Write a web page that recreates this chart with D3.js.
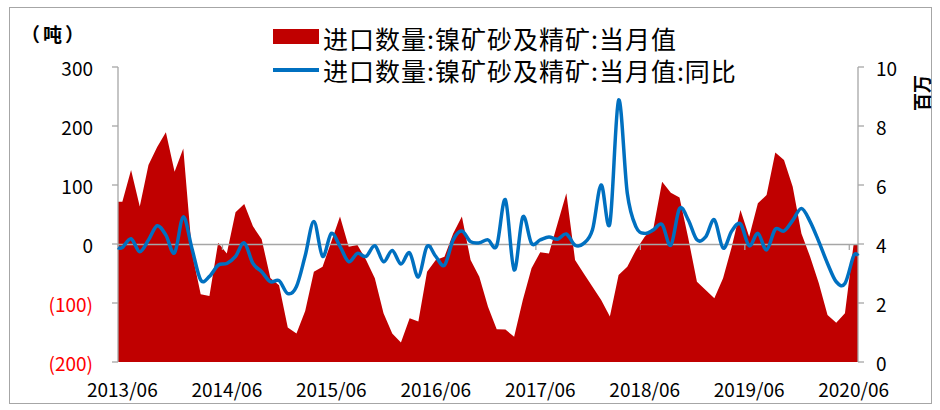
<!DOCTYPE html>
<html lang="zh-CN">
<head>
<meta charset="UTF-8">
<title>镍矿砂及精矿进口</title>
<script src="https://cdn.jsdelivr.net/npm/d3@7"></script>
<style>
  body { margin: 0; background: #fff; }
  svg text { font-family: "Noto Sans CJK SC", "Noto Sans", sans-serif; }
</style>
</head>
<body>
<svg id="chart" width="940" height="410"></svg>
<script>
// months shown on the category axis
const months = [
  "2013/06","2013/07","2013/08","2013/09","2013/10","2013/11","2013/12",
  "2014/01","2014/02","2014/03","2014/04","2014/05","2014/06","2014/07","2014/08","2014/09","2014/10","2014/11","2014/12",
  "2015/01","2015/02","2015/03","2015/04","2015/05","2015/06","2015/07","2015/08","2015/09","2015/10","2015/11","2015/12",
  "2016/01","2016/02","2016/03","2016/04","2016/05","2016/06","2016/07","2016/08","2016/09","2016/10","2016/11","2016/12",
  "2017/01","2017/02","2017/03","2017/04","2017/05","2017/06","2017/07","2017/08","2017/09","2017/10","2017/11","2017/12",
  "2018/01","2018/02","2018/03","2018/04","2018/05","2018/06","2018/07","2018/08","2018/09","2018/10","2018/11","2018/12",
  "2019/01","2019/02","2019/03","2019/04","2019/05","2019/06","2019/07","2019/08","2019/09","2019/10","2019/11","2019/12",
  "2020/01","2020/02","2020/03","2020/04","2020/05","2020/06"
];

// 当月值, 百万吨 (right axis)
const volume = [
  5.43, 6.51, 5.27, 6.68, 7.29, 7.79, 6.45,
  7.24, 3.70, 2.30, 2.24, 4.04, 3.68, 5.08, 5.36, 4.60, 4.16, 2.85, 2.60,
  1.17, 0.97, 1.73, 3.06, 3.23, 4.08, 4.93, 3.91, 3.97, 3.46, 2.84, 1.65,
  0.97, 0.66, 1.48, 1.37, 3.06, 3.46, 3.57, 4.36, 4.93, 3.46, 2.89, 1.87,
  1.11, 1.10, 0.86, 2.10, 3.18, 3.72, 3.68, 4.70, 5.72, 3.46, 3.00, 2.55,
  2.10, 1.54, 2.95, 3.23, 3.80, 4.25, 4.53, 6.11, 5.74, 5.58, 4.20, 2.72,
  2.44, 2.16, 2.84, 3.91, 5.15, 4.25, 5.38, 5.66, 7.10, 6.85, 5.94, 4.36,
  3.57, 2.67, 1.59, 1.33, 1.65, 4.00
];

// 同比, % (left axis)
const yoy = [
  -6, 9, -13, 7, 31, 15, -15,
  46, -8, -61, -55, -36, -33, -21, 2, -33, -47, -64, -62,
  -84, -72, -20, 38, -21, 18, -4, -30, -16, -21, -3, -30,
  -11, -34, -15, -56, -4, -21, -36, 7, 22, 4, 2, 7,
  -3, 75, -44, 46, 1, 7, 12, 8, 17, -2, 1, 24,
  100, 35, 244, 86, 29, 18, 24, 33, -2, 60, 41, 7,
  12, 41, -7, 22, 34, -3, 18, -10, 25, 22, 40, 60,
  38, 4, -33, -64, -67, -20
];

const leftTicks = [300, 200, 100, 0, -100, -200];
const rightTicks = [0, 2, 4, 6, 8, 10];
const xLabels = ["2013/06","2014/06","2015/06","2016/06","2017/06","2018/06","2019/06","2020/06"];
const seriesNames = ["进口数量:镍矿砂及精矿:当月值", "进口数量:镍矿砂及精矿:当月值:同比"];

const plot = {left: 118, right: 858, top: 67, bottom: 362};
const axisColor = "#a6a6a6";
const red = "#c00000", blue = "#0070c0";

const svg = d3.select("#chart");

// outer frame
svg.append("rect")
  .attr("x", 9.5).attr("y", 7.5)
  .attr("width", 922).attr("height", 396)
  .attr("fill", "none").attr("stroke", "#a6a6a6");

const x = d3.scaleBand().domain(months).range([plot.left, plot.right]);
const cx = m => x(m) + x.bandwidth() / 2;
const yL = d3.scaleLinear().domain([-200, 300]).range([plot.bottom, plot.top]);
const yR = d3.scaleLinear().domain([0, 10]).range([plot.bottom, plot.top]);

// points at band centres, stretched to the plot edges
function withEdges(vals) {
  const pts = months.map((m, i) => [cx(m), vals[i]]);
  pts.unshift([plot.left, vals[0]]);
  pts.push([plot.right, vals[vals.length - 1]]);
  return pts;
}

// area: monthly volume
svg.append("path")
  .datum(withEdges(volume))
  .attr("fill", red)
  .attr("d", d3.area()
    .x(d => d[0])
    .y0(yR(0))
    .y1(d => yR(d[1])));

// category axis at zero of the left axis
svg.append("line")
  .attr("x1", plot.left).attr("x2", plot.right)
  .attr("y1", yL(0) + 0.5).attr("y2", yL(0) + 0.5)
  .attr("stroke", axisColor).attr("stroke-width", 1.3);

svg.append("g").selectAll("line")
  .data(months.filter((m, i) => i % 12 === 0))
  .join("line")
    .attr("x1", d => x(d)).attr("x2", d => x(d))
    .attr("y1", yL(0)).attr("y2", yL(0) + 6)
    .attr("stroke", axisColor).attr("stroke-width", 1.3);

svg.append("g").selectAll("text")
  .data(xLabels)
  .join("text")
    .attr("x", d => cx(d))
    .attr("y", 388)
    .attr("text-anchor", "middle")
    .attr("dominant-baseline", "central")
    .attr("font-size", 19)
    .attr("fill", "#000")
    .text(d => d);

// left axis
const gl = svg.append("g");
gl.append("line")
  .attr("x1", plot.left).attr("x2", plot.left)
  .attr("y1", plot.top).attr("y2", plot.bottom)
  .attr("stroke", axisColor).attr("stroke-width", 1.3);
gl.selectAll(".tk").data(leftTicks).join("line")
  .attr("class", "tk")
  .attr("x1", plot.left - 6).attr("x2", plot.left)
  .attr("y1", d => yL(d)).attr("y2", d => yL(d))
  .attr("stroke", axisColor).attr("stroke-width", 1.3);
gl.selectAll("text").data(leftTicks).join("text")
  .attr("x", 93)
  .attr("y", d => yL(d))
  .attr("text-anchor", "end")
  .attr("dominant-baseline", "central")
  .attr("font-size", 19)
  .attr("fill", d => d < 0 ? "#ff0000" : "#000")
  .text(d => d < 0 ? "(" + Math.abs(d) + ")" : d);

// right axis
const gr = svg.append("g");
gr.append("line")
  .attr("x1", plot.right).attr("x2", plot.right)
  .attr("y1", plot.top).attr("y2", plot.bottom)
  .attr("stroke", axisColor).attr("stroke-width", 1.3);
gr.selectAll(".tk").data(rightTicks).join("line")
  .attr("class", "tk")
  .attr("x1", plot.right).attr("x2", plot.right + 6)
  .attr("y1", d => yR(d)).attr("y2", d => yR(d))
  .attr("stroke", axisColor).attr("stroke-width", 1.3);
gr.selectAll("text").data(rightTicks).join("text")
  .attr("x", 876)
  .attr("y", d => yR(d))
  .attr("dominant-baseline", "central")
  .attr("font-size", 19)
  .attr("fill", "#000")
  .text(d => d);

// unit labels
svg.append("text")
  .attr("x", 54).attr("y", 33)
  .attr("text-anchor", "middle")
  .attr("dominant-baseline", "central")
  .attr("font-size", 19).attr("font-weight", "bold")
  .attr("letter-spacing", 3)
  .text("（吨）");

svg.append("text")
  .attr("transform", "translate(921,93) rotate(-90)")
  .attr("text-anchor", "middle")
  .attr("dominant-baseline", "central")
  .attr("font-size", 18).attr("font-weight", "bold")
  .text("百万");

// line: yoy, smoothed
svg.append("path")
  .datum(withEdges(yoy))
  .attr("fill", "none")
  .attr("stroke", blue)
  .attr("stroke-width", 3.5)
  .attr("stroke-linejoin", "round")
  .attr("d", d3.line()
    .x(d => d[0])
    .y(d => yL(d[1]))
    .curve(d3.curveCardinal.tension(0)));

// legend
const lg = svg.append("g");
lg.append("rect")
  .attr("x", 273).attr("y", 29).attr("width", 46).attr("height", 15)
  .attr("fill", red);
lg.append("line")
  .attr("x1", 273).attr("x2", 319).attr("y1", 70).attr("y2", 70)
  .attr("stroke", blue).attr("stroke-width", 4);
lg.selectAll("text").data(seriesNames).join("text")
  .attr("x", 323)
  .attr("y", (d, i) => i === 0 ? 37.5 : 70)
  .attr("dominant-baseline", "central")
  .attr("font-size", 25)
  .attr("letter-spacing", 1)
  .attr("fill", "#000")
  .text(d => d);
</script>
</body>
</html>
